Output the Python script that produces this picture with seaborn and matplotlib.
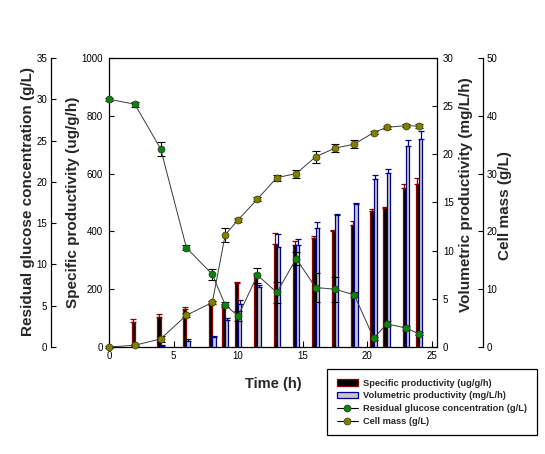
import numpy as np
import matplotlib
matplotlib.use("Agg")
import matplotlib.pyplot as plt
import seaborn as sns
from matplotlib.patches import Patch
from matplotlib.lines import Line2D

# ── Data ──────────────────────────────────────────────────────────────────────
time = [0, 2, 4, 6, 8, 9, 10, 11.5, 13, 14.5, 16, 17.5, 19, 20.5, 21.5, 23, 24]
glucose = [30.0, 29.4, 24.0, 12.0, 8.8, 5.1, 3.75, 8.7, 6.6, 10.7, 7.2, 7.0, 6.3, 1.05, 2.8, 2.3, 1.6]
glucose_err = [0.2, 0.3, 0.85, 0.3, 0.65, 0.3, 0.65, 0.9, 1.3, 0.8, 1.8, 1.5, 0.3, 0.2, 0.3, 0.2, 0.2]
cell_mass = [0.0, 0.3, 1.4, 5.5, 7.7, 19.4, 22.0, 25.6, 29.3, 30.0, 32.9, 34.4, 35.1, 37.1, 38.0, 38.3, 38.2]
cell_err = [0.1, 0.2, 0.5, 0.3, 0.3, 1.2, 0.3, 0.3, 0.5, 0.7, 1.0, 0.75, 0.75, 0.3, 0.3, 0.3, 0.3]

bar_time = [2, 4, 6, 8, 9, 10, 11.5, 13, 14.5, 16, 17.5, 19, 20.5, 21.5, 23, 24]
spec_prod = [87, 105, 130, 144, 145, 220, 249, 356, 353, 376, 401, 422, 470, 480, 549, 564]
spec_err = [10, 8, 7, 7, 4, 4, 6, 40, 15, 9, 4, 14, 6, 3, 14, 20]
vol_prod = [0.05, 0.1, 0.65, 1.07, 2.8, 4.5, 6.26, 10.35, 10.6, 12.3, 13.7, 14.8, 17.4, 18.1, 20.9, 21.6]
vol_err = [0, 0.1, 0.15, 0.07, 0.2, 0.4, 0.15, 1.35, 0.6, 0.7, 0.1, 0.1, 0.45, 0.35, 0.6, 0.8]

# ── Style ──────────────────────────────────────────────────────────────────────
sns.set_style("ticks")
plt.rcParams.update({
    "font.family": ["Liberation Sans", "DejaVu Sans"],
    "xtick.direction": "in",
    "ytick.direction": "in",
    "xtick.labelsize": 7,
    "ytick.labelsize": 7,
    "axes.linewidth": 0.9,
    "axes.edgecolor": "black",
    "xtick.color": "black",
    "ytick.color": "black",
})
GREEN = "#0b840b"
OLIVE = "#808000"
SPEC_EDGE = "#8b0000"
VOL_EDGE = "#00008b"
VOL_FILL = "#c8c8c8"
BW = 0.25

fig = plt.figure(figsize=(5.45, 4.54), dpi=100)
host = fig.add_axes([0.2, 0.2357, 0.6018, 0.6366])
ax_vol = host.twinx()
ax_glu = host.twinx()
ax_cell = host.twinx()

bt = np.array(bar_time)

# ── Specific productivity bars (host, left inner axis) ────────────────────────
host.bar(bt - BW / 2, spec_prod, width=BW, color="black",
         edgecolor=SPEC_EDGE, linewidth=0.9, zorder=3)
host.errorbar(bt - BW / 2, spec_prod, yerr=[np.zeros(len(spec_err)), spec_err],
              fmt="none", ecolor=SPEC_EDGE, elinewidth=0.9, capsize=2,
              capthick=0.9, zorder=2)

# ── Volumetric productivity bars (right inner axis) ───────────────────────────
ax_vol.bar(bt + BW / 2, vol_prod, width=BW, color=VOL_FILL,
           edgecolor=VOL_EDGE, linewidth=0.9, zorder=3)
ax_vol.errorbar(bt + BW / 2, vol_prod, yerr=[np.zeros(len(vol_err)), vol_err],
                fmt="none", ecolor=VOL_EDGE, elinewidth=0.9, capsize=2,
                capthick=0.9, zorder=2)

# ── Residual glucose (left outer axis) ────────────────────────────────────────
ax_glu.errorbar(time, glucose, yerr=glucose_err, fmt="none", ecolor="black",
                elinewidth=0.8, capsize=2.6, capthick=0.8, zorder=2, clip_on=False)
sns.lineplot(x=time, y=glucose, ax=ax_glu, color="#3a3a3a", linewidth=0.7,
             marker="o", markersize=5, markerfacecolor=GREEN,
             markeredgecolor="#1f3a1f", markeredgewidth=0.5, zorder=3, clip_on=False)

# ── Cell mass (right outer axis) ──────────────────────────────────────────────
ax_cell.errorbar(time, cell_mass, yerr=cell_err, fmt="none", ecolor="black",
                 elinewidth=0.8, capsize=2.6, capthick=0.8, zorder=2, clip_on=False)
sns.lineplot(x=time, y=cell_mass, ax=ax_cell, color="#3a3a3a", linewidth=0.7,
             marker="o", markersize=5, markerfacecolor=OLIVE,
             markeredgecolor="#3a3a00", markeredgewidth=0.5, zorder=3, clip_on=False)

# ── Axes limits, spines and ticks ─────────────────────────────────────────────
host.set_xlim(0, 25.4)
host.set_xticks([0, 5, 10, 15, 20, 25])
host.set_ylim(0, 1000)
host.set_yticks(range(0, 1001, 200))
ax_vol.set_ylim(0, 30)
ax_vol.set_yticks(range(0, 31, 5))
ax_glu.set_ylim(0, 35)
ax_glu.set_yticks(range(0, 36, 5))
ax_cell.set_ylim(0, 50)
ax_cell.set_yticks(range(0, 51, 10))

host.spines["right"].set_visible(False)
host.tick_params(axis="x", length=4.3, width=0.8, pad=3)
host.tick_params(axis="y", length=3.6, width=0.8, pad=4.5)

for s in ["top", "left", "bottom"]:
    ax_vol.spines[s].set_visible(False)
ax_vol.tick_params(axis="y", length=3.6, width=0.8, pad=4.2)

for s in ["top", "right", "bottom"]:
    ax_glu.spines[s].set_visible(False)
ax_glu.spines["left"].set_visible(True)
ax_glu.spines["left"].set_position(("axes", -0.177))
ax_glu.yaxis.set_ticks_position("left")
ax_glu.yaxis.set_label_position("left")
ax_glu.tick_params(axis="y", length=3.6, width=0.8, pad=2.8)

for s in ["top", "left", "bottom"]:
    ax_cell.spines[s].set_visible(False)
ax_cell.spines["right"].set_position(("axes", 1.14))
ax_cell.tick_params(axis="y", length=3.6, width=0.8, pad=2.5)

# ── Labels ────────────────────────────────────────────────────────────────────
lab = dict(fontsize=11, fontweight="bold")
host.set_xlabel("Time (h)", fontsize=10.5, fontweight="bold")
host.xaxis.set_label_coords(0.5, -0.105)
host.set_ylabel("Specific productivity (ug/g/h)", **lab)
host.yaxis.set_label_coords(-0.088, 0.5)
ax_vol.set_ylabel("Volumetric productivity (mg/L/h)", **lab)
ax_vol.yaxis.set_label_coords(1.067, 0.526)
ax_glu.set_ylabel("Residual glucose concentration (g/L)", **lab)
ax_glu.yaxis.set_label_coords(-0.226, 0.503)
ax_cell.set_ylabel("Cell mass (g/L)", **lab)
ax_cell.yaxis.set_label_coords(1.186, 0.491)

# ── Legend ────────────────────────────────────────────────────────────────────
handles = [
    Patch(facecolor="black", edgecolor=SPEC_EDGE, linewidth=0.9),
    Patch(facecolor=VOL_FILL, edgecolor=VOL_EDGE, linewidth=0.9),
    Line2D([], [], color="black", linewidth=0.8, marker="o", markersize=5,
           markerfacecolor=GREEN, markeredgecolor="#1f3a1f", markeredgewidth=0.5),
    Line2D([], [], color="black", linewidth=0.8, marker="o", markersize=5,
           markerfacecolor=OLIVE, markeredgecolor="#3a3a00", markeredgewidth=0.5),
]
labels = ["Specific productivity (ug/g/h)", "Volumetric productivity (mg/L/h)",
          "Residual glucose concentration (g/L)", "Cell mass (g/L)"]
leg = fig.legend(handles, labels, loc="upper left",
                 bbox_to_anchor=(327 / 545, 1 - 369 / 454),
                 prop={"size": 6.65, "weight": "bold"}, frameon=True,
                 fancybox=False, edgecolor="black", framealpha=1,
                 handlelength=2.3, handleheight=0.7, handletextpad=0.6,
                 labelspacing=0.4, borderpad=1.05, borderaxespad=0)
leg.get_frame().set_linewidth(0.9)

fig.savefig("out.png", dpi=100, facecolor="white")
